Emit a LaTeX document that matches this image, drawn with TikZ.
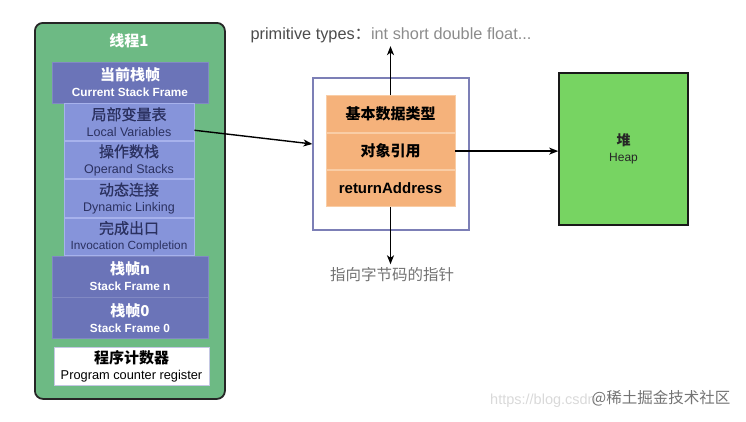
\documentclass[tikz,border=0pt]{standalone}
\usepackage{fontspec}
\setmainfont{Liberation Sans}
\newfontfamily\cjk{Noto Sans CJK SC}
\newfontfamily\cjkmid[FakeBold=0.8]{Noto Sans CJK SC}
\usetikzlibrary{arrows.meta,positioning}

\definecolor{threadgreen}{HTML}{6DBA84}
\definecolor{framedark}{HTML}{6B74B8}
\definecolor{framelight}{HTML}{8694DA}
\definecolor{framerule}{HTML}{A7B2EC}
\definecolor{slotorange}{HTML}{F5B27B}
\definecolor{slotrule}{HTML}{F9CDA6}
\definecolor{slotframe}{HTML}{7C7FB6}
\definecolor{heapgreen}{HTML}{77D462}
\definecolor{labelnavy}{HTML}{2B3160}

\newcommand{\cnen}[3][12.5]{{\cjk\fontsize{15}{18}\selectfont #2}\\[4pt]{\fontsize{#1}{15}\selectfont #3}}
\newcommand{\cnenmid}[2]{{\cjkmid\fontsize{15}{18}\selectfont #1}\\[4pt]{\fontsize{12.5}{15}\selectfont #2}}

\begin{document}
\begin{tikzpicture}[x=1pt, y=-1pt,
  darkframe/.style={fill=framedark, draw=framedark!85!white, line width=0.6pt, text=white, font=\bfseries, minimum width=156pt, minimum height=41pt, inner sep=0pt, align=center},
  lightframe/.style={fill=framelight, draw=framerule, line width=0.8pt, text=labelnavy, minimum width=130pt, minimum height=37.5pt, inner sep=0pt, align=center},
  slotbox/.style={fill=slotorange, draw=slotrule, line width=0.6pt, minimum width=129pt, minimum height=36.5pt, inner sep=0pt, font=\bfseries\fontsize{15}{18}\selectfont},
  arr/.style={-{Stealth[length=9pt,width=7pt,inset=2.5pt]}, line width=1.4pt}
]
  \useasboundingbox (0,0) rectangle (746,421);

  % Thread 1 with its stack
  \node[draw=black!85, line width=1.8pt, rounded corners=8pt, fill=threadgreen,
        minimum width=190pt, minimum height=376pt, anchor=north west] (thread) at (34,22) {};
  \node[text=white, font=\bfseries\fontsize{15}{18}\selectfont] (threadname) at (129,41) {\cjk 线程1};

  \node[darkframe] (cur) at (130,82.5) {\cnen[11.8]{当前栈帧}{Current Stack Frame}};
  \node[lightframe] (lv) at (129,121.75) {\cnenmid{局部变量表}{Local Variables}};
  \node[lightframe, below=0pt of lv] (op) {\cnenmid{操作数栈}{Operand Stacks}};
  \node[lightframe, below=0pt of op] (dyn) {\cnenmid{动态连接}{Dynamic Linking}};
  \node[lightframe, below=0pt of dyn] (inv) {\cnenmid{完成出口}{\fontsize{11.8}{15}\selectfont Invocation Completion}};
  \node[darkframe] (framen) at (130,276.5) {\cnen[11.8]{栈帧n}{Stack Frame n}};
  \node[darkframe, below=0pt of framen] (frame0) {\cnen[11.8]{栈帧0}{Stack Frame 0}};

  % Program counter
  \node[fill=white, draw=framedark!40, line width=0.8pt, minimum width=155pt, minimum height=38pt,
        inner sep=0pt, align=center, font=\bfseries] (pc) at (131.5,366) {\cnen[12.8]{程序计数器}{\mdseries Program counter register}};

  % Local variable slot
  \node[draw=slotframe, line width=1.2pt, minimum width=156pt, minimum height=152pt] (slot) at (391,154) {};
  \node[slotbox] (basic) at (390.5,114) {\cjk 基本数据类型};
  \node[slotbox, below=0pt of basic] (ref) {\cjk 对象引用};
  \node[slotbox, below=0pt of ref] (ret) {returnAddress};

  \node[font=\fontsize{16.3}{19}\selectfont] (prim) at (391,35)
    {{\color{black!70}primitive types{\cjk ：}}{\color{black!45}int short double float...}};
  \node[text=black!55, font=\cjk\fontsize{15.5}{18}\selectfont] (ptr) at (392,275) {指向字节码的指针};

  % Heap
  \node[draw=black!90, line width=1.6pt, fill=heapgreen, minimum width=129pt, minimum height=152pt,
        align=center, text=black!85] (heap) at (623.5,149)
    {{\cjk\bfseries\fontsize{14}{17}\selectfont 堆}\\[4pt]{\fontsize{12}{15}\selectfont Heap}};

  % Connectors
  \draw[arr] ([yshift=-8.5pt]lv.east) -- ([yshift=10pt]slot.west);
  \draw[arr] (basic.north) -- (basic.north |- prim.south);
  \draw[arr] (ret.south) -- (ret.south |- ptr.north);
  \draw[arr] (ref.east) -- (ref.east -| heap.west);

  % Watermark
  \node[text=black!15, font=\fontsize{14.5}{17}\selectfont] (url) at (543,401) {https://blog.csdn};
  \node[text=black!55, font=\cjk\fontsize{15.5}{18}\selectfont] (mark) at (661,398) {@稀土掘金技术社区};
\end{tikzpicture}
\end{document}
